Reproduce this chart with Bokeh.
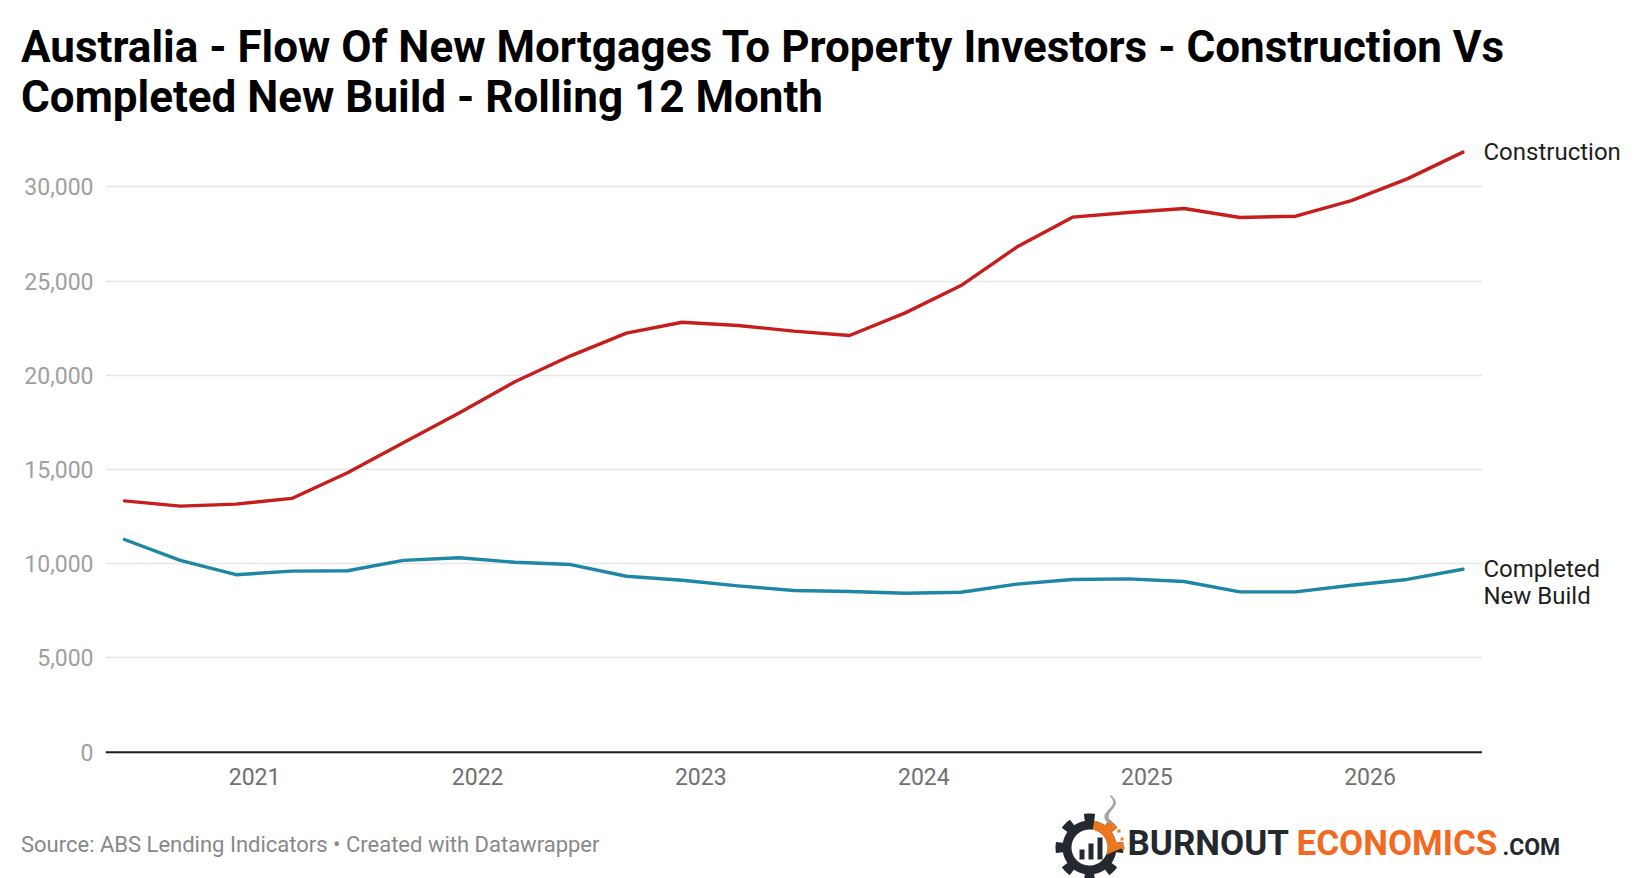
import numpy as np
from bokeh.plotting import figure
from bokeh.layouts import column, row
from bokeh.models import Range1d, FixedTicker, NumeralTickFormatter, Span
from bokeh.core.properties import value
from bokeh.embed import file_html
from bokeh.resources import INLINE

# ---------------- data ----------------
quarters = ["2020-06", "2020-09", "2020-12", "2021-03", "2021-06", "2021-09", "2021-12",
            "2022-03", "2022-06", "2022-09", "2022-12", "2023-03", "2023-06", "2023-09",
            "2023-12", "2024-03", "2024-06", "2024-09", "2024-12", "2025-03", "2025-06",
            "2025-09", "2025-12", "2026-03", "2026-06"]
construction = [13340, 13060, 13170, 13470, 14830, 16420, 18010, 19660, 21040, 22240,
                22820, 22650, 22350, 22120, 23320, 24770, 26810, 28400, 28650, 28860,
                28380, 28450, 29280, 30430, 31850]
completed = [11290, 10180, 9420, 9610, 9630, 10180, 10320, 10080, 9960, 9340,
             9130, 8830, 8580, 8530, 8440, 8490, 8920, 9170, 9200, 9060,
             8510, 8510, 8860, 9170, 9710]
series_names = ["Construction", "Completed", "New Build"]
year_ticks = [2021, 2022, 2023, 2024, 2025, 2026]
y_ticks = [0, 5000, 10000, 15000, 20000, 25000, 30000]

title_lines = ["Australia - Flow Of New Mortgages To Property Investors - Construction Vs",
               "Completed New Build - Rolling 12 Month"]
source_text = "Source: ABS Lending Indicators \u2022 Created with Datawrapper"

x = [int(q[:4]) + (int(q[5:]) - 1) / 12 for q in quarters]

# ---------------- layout constants ----------------
TOTAL_W = 1640
HEAD_H = 128
BL, BB = 105, 38
FW, FH = 1377, 627
MAIN_W = BL + FW            # 1482
MAIN_H = FH + BB            # 665
LAB_W = TOTAL_W - MAIN_W    # 158
FOOT_H = 878 - HEAD_H - MAIN_H

PX_PER_UNIT = 0.01884
y_end = 33105
y_start = y_end - FH / PX_PER_UNIT
x_start, x_end = x[0] - 0.085, x[-1] + 0.0875

RED = "#c71e1d"
TEAL = "#1f87a6"
common = dict(output_backend="svg", toolbar_location=None, outline_line_color=None,
              background_fill_color="white", border_fill_color="white")


def pix_fig(w, h):
    return figure(width=w, height=h, x_range=Range1d(0, w), y_range=Range1d(h, 0),
                  x_axis_type=None, y_axis_type=None, min_border=0, **common)


# ---------------- header ----------------
head = pix_fig(TOTAL_W, HEAD_H)
head.text(x=[20.5, 20.5], y=[46.5, 96.5], text=title_lines, text_font=value("Roboto"),
          text_font_style="bold", text_font_size="44px", text_color="#000000",
          text_align="left", text_baseline="middle")

# ---------------- main chart ----------------
p = figure(width=MAIN_W, height=MAIN_H, x_range=Range1d(x_start, x_end),
           y_range=Range1d(y_start, y_end),
           min_border_left=BL, min_border_right=0, min_border_top=0, min_border_bottom=BB,
           **common)

p.yaxis.ticker = FixedTicker(ticks=y_ticks)
p.yaxis.formatter = NumeralTickFormatter(format="0,0")
p.yaxis.axis_line_color = None
p.yaxis.major_tick_line_color = None
p.yaxis.minor_tick_line_color = None
p.yaxis.major_tick_out = 0
p.yaxis.major_tick_in = 0
p.yaxis.minor_tick_out = 0
p.yaxis.major_label_standoff = 12
p.yaxis.major_label_text_font = "Roboto"
p.yaxis.major_label_text_font_size = "23px"
p.yaxis.major_label_text_color = "#a0a0a0"

p.xaxis.ticker = FixedTicker(ticks=year_ticks)
p.xaxis.major_label_overrides = {t: str(t) for t in year_ticks}
p.xaxis.axis_line_color = None
p.xaxis.major_tick_line_color = None
p.xaxis.minor_tick_line_color = None
p.xaxis.major_tick_out = 0
p.xaxis.major_tick_in = 0
p.xaxis.minor_tick_out = 0
p.xaxis.major_label_standoff = 12
p.xaxis.major_label_text_font = "Roboto"
p.xaxis.major_label_text_font_size = "23px"
p.xaxis.major_label_text_color = "#707070"

p.xgrid.grid_line_color = None
p.ygrid.grid_line_color = "#e6e6e6"
p.ygrid.grid_line_width = 1.5

p.add_layout(Span(location=0, dimension="width", line_color="#1e1e1e", line_width=2))

p.line(x, construction, line_color=RED, line_width=3.4, line_join="round", line_cap="round")
p.line(x, completed, line_color=TEAL, line_width=3.4, line_join="round", line_cap="round")

# ---------------- series labels (right, shares y scale) ----------------
lab = figure(width=LAB_W, height=MAIN_H, x_range=Range1d(0, LAB_W), y_range=p.y_range,
             x_axis_type=None, y_axis_type=None, min_border_left=0, min_border_right=0,
             min_border_top=0, min_border_bottom=BB, **common)
line_gap = 27.0 / PX_PER_UNIT
lab.text(x=[1, 1, 1],
         y=[construction[-1], completed[-1], completed[-1] - line_gap],
         text=series_names, text_font=value("Roboto"), text_font_size="24px",
         text_color="#1e1e1e", text_align="left", text_baseline="middle")

# ---------------- footer with source and logo ----------------
foot = pix_fig(TOTAL_W, FOOT_H)
OY = HEAD_H + MAIN_H  # page y of footer top
foot.text(x=[20.5], y=[844 - OY], text=[source_text], text_font=value("Roboto"),
          text_font_size="22px", text_color="#888888", text_align="left",
          text_baseline="middle")

DARK = "#23292e"
ORANGE = "#f26a21"
cx, cy = 1089, 847 - OY
Ro, Rb, Ri = 34, 27, 18
t = np.radians(np.linspace(0, 360, 721))
ang = np.degrees(t)
d = np.abs(((ang - 90 + 22.5) % 45) - 22.5)
r = np.where(d < 10, Ro, Rb)
foot.patch(cx + r * np.cos(t), cy - r * np.sin(t), fill_color=DARK, line_color=None)
sel = (ang >= -25) & (ang <= 80)
ti = np.radians(np.linspace(80, -25, 60))
wx = np.concatenate([cx + r[sel] * np.cos(t[sel]), cx + Ri * np.cos(ti)])
wy = np.concatenate([cy - r[sel] * np.sin(t[sel]), cy - Ri * np.sin(ti)])
foot.patch(wx, wy, fill_color="#f47b20", fill_alpha=0.95, line_color=None)
tc = np.radians(np.linspace(0, 360, 120))
foot.patch(cx + Ri * np.cos(tc), cy - Ri * np.sin(tc), fill_color="white", line_color=None)
foot.quad(left=[cx - 10, cx - 1, cx + 8], right=[cx - 5, cx + 4, cx + 13],
          top=[cy + 2, cy - 4, cy - 10], bottom=[cy + 12] * 3,
          fill_color=DARK, line_color=None)
spark_dx = [22, 28, 19, 31, 25, 32]
spark_dy = [-23, -18, -14, -10, -6, -1]
foot.quad(left=[cx + v for v in spark_dx], right=[cx + v + 3 for v in spark_dx],
          top=[cy + v for v in spark_dy], bottom=[cy + v + 3 for v in spark_dy],
          fill_color="#f47b20", line_color=None)
sy_ = np.linspace(cy - 24, cy - 52, 30)
sx_ = cx + 21 + 4 * np.sin((sy_ - sy_[0]) / 28 * 2 * np.pi)
wdt = np.linspace(2.5, 1.0, 30)
foot.patch(np.concatenate([sx_ - wdt, (sx_ + wdt)[::-1]]),
           np.concatenate([sy_, sy_[::-1]]), fill_color="#9a9a9a", fill_alpha=0.9,
           line_color=None)

logo_mid = 843 - OY
foot.text(x=[1127, 1296], y=[logo_mid, logo_mid], text=["BURNOUT", "ECONOMICS"],
          text_font=value("Roboto"), text_font_style="bold", text_font_size="35px",
          text_color=[DARK, ORANGE], text_align="left", text_baseline="middle")
foot.text(x=[1502], y=[logo_mid + 4], text=[".COM"], text_font=value("Roboto"),
          text_font_style="bold", text_font_size="23px", text_color=DARK,
          text_align="left", text_baseline="middle")

layout = column(head, row(p, lab, spacing=0), foot, spacing=0)
open("out.html", "w").write(file_html(layout, INLINE))
